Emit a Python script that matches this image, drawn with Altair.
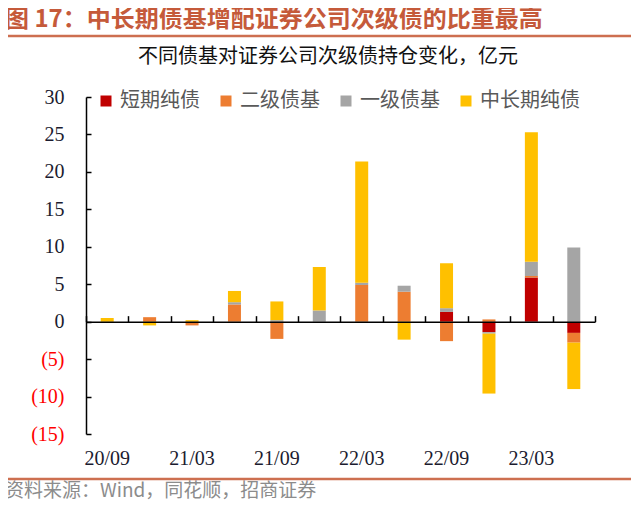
import altair as alt
import pandas as pd

quarters = ["20/09", "20/12", "21/03", "21/06", "21/09", "21/12",
            "22/03", "22/06", "22/09", "22/12", "23/03", "23/06"]
series = ["短期纯债", "二级债基", "一级债基", "中长期纯债"]
colors = ["#C00000", "#ED7D31", "#A5A5A5", "#FFC000"]

short_pure = [0, 0, 0, 0, 0, 0, 0, 0, 1.3, -1.4, 5.9, -1.5]
secondary = [0, 0.6, -0.5, 2.3, -2.3, 0, 4.9, 4.0, -2.6, 0.3, 0.2, -1.3]
primary = [0, 0, 0, 0.3, 0.2, 1.5, 0.3, 0.8, 0.5, -0.2, 1.9, 9.9]
mid_long = [0.5, -0.5, 0.2, 1.5, 2.5, 5.8, 16.2, -2.4, 6.0, -8.0, 17.3, -6.2]

label_quarters = ["20/09", "21/03", "21/09", "22/03", "22/09", "23/03"]
y_ticks = [-15, -10, -5, 0, 5, 10, 15, 20, 25, 30]

title_text = "图 17：中长期债基增配证券公司次级债的比重最高"
subtitle_text = "不同债基对证券公司次级债持仓变化，亿元"
source_text = "资料来源：Wind，同花顺，招商证券"

rows = []
for s_i, (name, vals) in enumerate(zip(series, [short_pure, secondary, primary, mid_long])):
    for q, v in zip(quarters, vals):
        rows.append({"quarter": q, "series": name, "value": v, "order": s_i})
df = pd.DataFrame(rows)

W, H = 509, 337
Y_MIN, Y_MAX = -15, 30
zero_offset = -H * Y_MAX / (Y_MAX - Y_MIN)

serif = "Liberation Serif"
cjk = "Noto Sans CJK SC"
dark = "#1b1b2f"
brown = "#C55A3A"

x_scale = alt.Scale(domain=quarters, paddingInner=0, paddingOuter=0)
y_scale = alt.Scale(domain=[Y_MIN, Y_MAX], nice=False)
color_scale = alt.Scale(domain=series, range=colors)

bars = alt.Chart(df).mark_bar(size=13).encode(
    x=alt.X("quarter:N", sort=quarters, scale=x_scale,
            axis=alt.Axis(orient="bottom", values=label_quarters, domain=False,
                          ticks=False, tickSize=0, labelAngle=0, labelFont=serif,
                          labelFontSize=20, labelColor=dark, labelPadding=14,
                          title=None, grid=False)),
    y=alt.Y("value:Q", stack="zero", scale=y_scale,
            axis=alt.Axis(orient="left", values=y_ticks, domain=True,
                          domainColor="black", domainWidth=1.5, ticks=False,
                          tickSize=0, labelFont=serif, labelFontSize=20,
                          labelPadding=22,
                          labelExpr="datum.value < 0 ? '(' + abs(datum.value) + ')' : '' + datum.value",
                          labelColor={"condition": {"test": "datum.value < 0", "value": "#FF0000"},
                                      "value": dark},
                          title=None, grid=False, zindex=1)),
    color=alt.Color("series:N", scale=color_scale, sort=series,
                    legend=alt.Legend(orient="none", legendX=10, legendY=-6,
                                      direction="horizontal", title=None,
                                      symbolType="square", symbolSize=121,
                                      symbolStrokeWidth=0, labelFont=cjk,
                                      labelFontSize=20, labelColor="#595959",
                                      labelOffset=4, columnPadding=16, padding=0)),
    order=alt.Order("order:Q"),
)

tick_layer = alt.Chart(df).mark_bar(size=13, opacity=0).encode(
    x=alt.X("quarter:N", sort=quarters, scale=x_scale,
            axis=alt.Axis(orient="top", offset=zero_offset, labels=False,
                          domain=True, domainColor="black", domainWidth=1.5,
                          ticks=True, tickSize=6, tickColor="black", tickWidth=1.5,
                          tickBand="extent", title=None, grid=False, zindex=1)),
    y=alt.Y("value:Q", stack="zero", scale=y_scale,
            axis=alt.Axis(orient="right", offset=-W, values=y_ticks, labels=False,
                          domain=False, ticks=True, tickSize=5, tickColor="black",
                          tickWidth=1.5, title=None, grid=False, zindex=1)),
    color=alt.Color("series:N", scale=color_scale, legend=None),
    order=alt.Order("order:Q"),
)

title = alt.Chart(pd.DataFrame({"t": [title_text]})).mark_text(
    align="left", baseline="middle", font=cjk, fontSize=24, fontWeight="bold",
    color=brown).encode(text="t:N", x=alt.value(-81), y=alt.value(-77))

subtitle = alt.Chart(pd.DataFrame({"t": [subtitle_text]})).mark_text(
    align="center", baseline="middle", font=cjk, fontSize=20,
    color="#111111").encode(text="t:N", x=alt.value(242), y=alt.value(-40))

source = alt.Chart(pd.DataFrame({"t": [source_text]})).mark_text(
    align="left", baseline="middle", font=cjk, fontSize=19,
    color="#8c8c8c").encode(text="t:N", x=alt.value(-81), y=alt.value(394))

top_line = alt.Chart(pd.DataFrame({"k": [0]})).mark_rule(
    color="#CD6F50", strokeWidth=2.5).encode(
    x=alt.value(-81), x2=alt.value(545), y=alt.value(-61))

bottom_line = alt.Chart(pd.DataFrame({"k": [0]})).mark_rule(
    color="#CD6F50", strokeWidth=2.5).encode(
    x=alt.value(-81), x2=alt.value(545), y=alt.value(382))

chart = alt.layer(bars, tick_layer, title, subtitle, source, top_line, bottom_line).resolve_axis(
    x="independent", y="independent"
).properties(
    width=W, height=H,
    padding={"left": 78, "top": 89, "right": 37, "bottom": 68},
    autosize=alt.AutoSizeParams(type="none"),
).configure_view(stroke=None)

chart.save("out.html", embed_options={"renderer": "svg", "actions": False})
